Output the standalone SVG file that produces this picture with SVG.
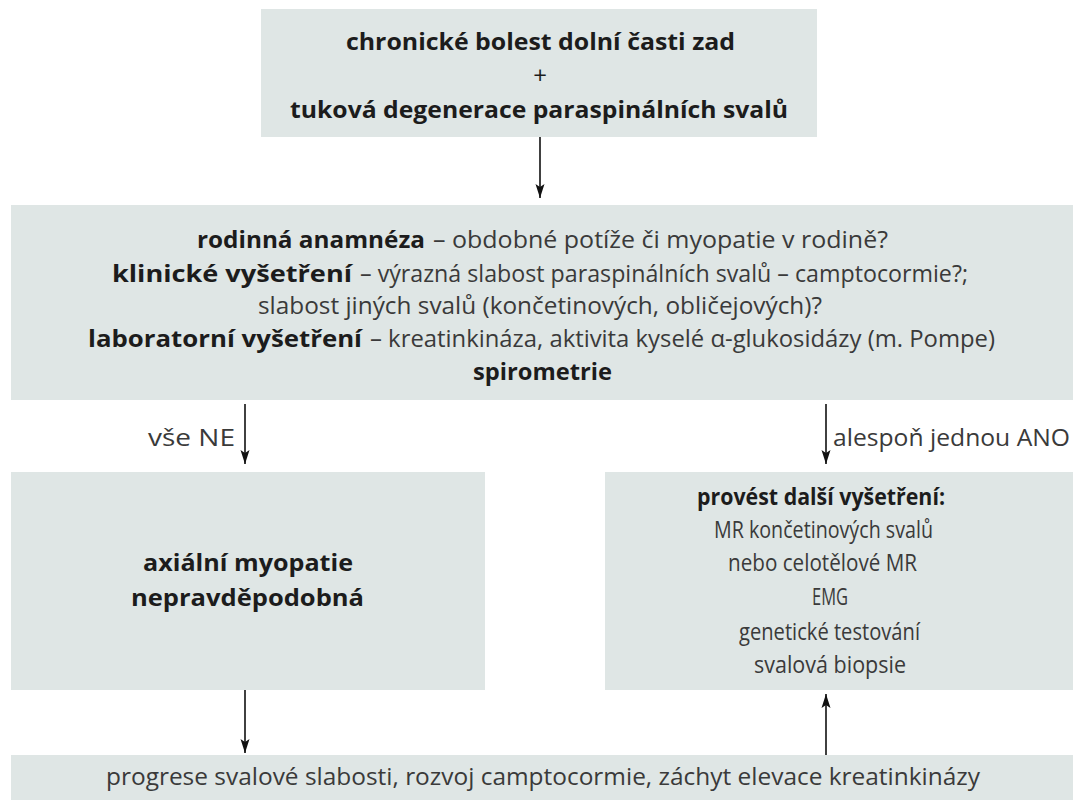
<svg xmlns="http://www.w3.org/2000/svg" width="1083" height="800" viewBox="0 0 1083 800">
<defs>
<marker id="ah" viewBox="0 0 14 10" refX="14" refY="5" markerWidth="14" markerHeight="10" markerUnits="userSpaceOnUse" orient="auto">
<path d="M0,0.5 L14,5 L0,9.5 L3,5 Z" fill="#111"/>
</marker>
</defs>
<style>
.box{fill:#dfe6e5;}
text{font-family:"Open Sans","Liberation Sans",sans-serif;font-size:24px;fill:#3a3a3a;}
.b{font-weight:bold;fill:#1c1c1c;}
.c{text-anchor:middle;}
.edge{stroke:#111;stroke-width:1.6;fill:none;marker-end:url(#ah);}
</style>
<rect width="1083" height="800" fill="#ffffff"/>
<g id="connectors">
<line class="edge" x1="540" y1="137" x2="540" y2="198"/>
<line class="edge" x1="245" y1="404" x2="245" y2="464"/>
<line class="edge" x1="826" y1="404" x2="826" y2="464"/>
<line class="edge" x1="245" y1="690" x2="245" y2="753"/>
<line class="edge" x1="826" y1="755" x2="826" y2="694"/>
<text x="235" y="446" text-anchor="end" textLength="87" lengthAdjust="spacingAndGlyphs">vše NE</text>
<text x="833" y="446" textLength="237" lengthAdjust="spacingAndGlyphs">alespoň jednou ANO</text>
</g>
<g id="node-start">
<rect class="box" x="261" y="9" width="556" height="128"/>
<text class="b" x="346" y="50" textLength="389" lengthAdjust="spacingAndGlyphs">chronické bolest dolní časti zad</text>
<text class="c" x="540" y="84" style="fill:#1c1c1c">+</text>
<text class="b" x="290" y="118" textLength="498" lengthAdjust="spacingAndGlyphs">tuková degenerace paraspinálních svalů</text>
</g>
<g id="node-exam">
<rect class="box" x="11" y="205" width="1062" height="195"/>
<text y="248"><tspan class="b" x="197" textLength="228" lengthAdjust="spacingAndGlyphs">rodinná anamnéza</tspan><tspan x="433" textLength="455" lengthAdjust="spacingAndGlyphs">– obdobné potíže či myopatie v rodině?</tspan></text>
<text y="282"><tspan class="b" x="112" textLength="240" lengthAdjust="spacingAndGlyphs">klinické vyšetření</tspan><tspan x="360" textLength="608" lengthAdjust="spacingAndGlyphs">– výrazná slabost paraspinálních svalů – camptocormie?;</tspan></text>
<text x="258" y="314" textLength="564" lengthAdjust="spacingAndGlyphs">slabost jiných svalů (končetinových, obličejových)?</text>
<text y="347"><tspan class="b" x="88" textLength="274" lengthAdjust="spacingAndGlyphs">laboratorní vyšetření</tspan><tspan x="370" textLength="625" lengthAdjust="spacingAndGlyphs">– kreatinkináza, aktivita kyselé α-glukosidázy (m. Pompe)</tspan></text>
<text class="b" x="473" y="380" textLength="139" lengthAdjust="spacingAndGlyphs">spirometrie</text>
</g>
<g id="node-unlikely">
<rect class="box" x="11" y="472" width="474" height="218"/>
<text class="b" x="143" y="571" textLength="210" lengthAdjust="spacingAndGlyphs">axiální myopatie</text>
<text class="b" x="131" y="606" textLength="233" lengthAdjust="spacingAndGlyphs">nepravděpodobná</text>
</g>
<g id="node-further">
<rect class="box" x="605" y="472" width="468" height="218"/>
<text class="b" x="697" y="505" textLength="248" lengthAdjust="spacingAndGlyphs">provést další vyšetření:</text>
<text x="714" y="538" textLength="219" lengthAdjust="spacingAndGlyphs">MR končetinových svalů</text>
<text x="728" y="571" textLength="189" lengthAdjust="spacingAndGlyphs">nebo celotělové MR</text>
<text x="812" y="605" textLength="36" lengthAdjust="spacingAndGlyphs">EMG</text>
<text x="739" y="640" textLength="181" lengthAdjust="spacingAndGlyphs">genetické testování</text>
<text x="754" y="673" textLength="152" lengthAdjust="spacingAndGlyphs">svalová biopsie</text>
</g>
<g id="node-progress">
<rect class="box" x="11" y="755" width="1062" height="45"/>
<text x="106" y="785" textLength="874" lengthAdjust="spacingAndGlyphs">progrese svalové slabosti, rozvoj camptocormie, záchyt elevace kreatinkinázy</text>
</g>
</svg>
